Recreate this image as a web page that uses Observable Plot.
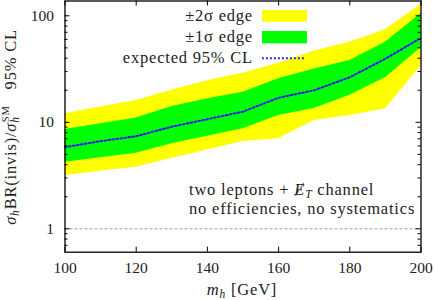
<!DOCTYPE html>
<html><head><meta charset="utf-8">
<script src="https://cdn.jsdelivr.net/npm/d3@7"></script>
<script src="https://cdn.jsdelivr.net/npm/@observablehq/plot@0.6"></script>
<style>body{margin:0;background:#fff;} #chart{width:435px;height:300px;}</style>
</head><body><div id="chart"></div>
<script>
// ---- data ----
const mass      = [100, 110, 120, 130, 140, 150, 160, 170, 180, 190, 200];
const expected  = [5.84, 6.65, 7.4, 9.1, 10.7, 12.6, 17.0, 20.0, 26.5, 39.5, 62];
const sigma1Lo  = [4.22, 4.64, 5.13, 6.3, 7.4, 8.7, 11.6, 13.5, 17.9, 26.2, 50];
const sigma1Hi  = [8.56, 9.68, 11.0, 14.1, 16.6, 19.1, 25.6, 31.6, 38, 56.5, 105];
const sigma2Lo  = [3.17, 3.47, 3.79, 4.6, 5.5, 6.6, 7.0, 10.4, 11.6, 13.4, 34];
const sigma2Hi  = [12.0, 13.9, 16.0, 20, 24.5, 28.8, 35.9, 46.8, 56.5, 74, 128];
const xTicks    = [100, 120, 140, 160, 180, 200];
const yMajor    = [1, 10, 100];
const yMinor    = [0.7, 0.8, 0.9, 2, 3, 4, 5, 6, 7, 8, 9, 20, 30, 40, 50, 60, 70, 80, 90];
const legendLabels = ["\u00b12\u03c3 edge", "\u00b11\u03c3 edge", "expected 95% CL"];
const noteLines = ["two leptons + ", "no efficiencies, no systematics"];

const rows = mass.map((m, i) => ({m, e: expected[i], lo1: sigma1Lo[i], hi1: sigma1Hi[i], lo2: sigma2Lo[i], hi2: sigma2Hi[i]}));

const W = 435, H = 300;
const mL = 64.5, mR = 14.5, mT = 0.5, mB = 48.3;
const iW = W - mL - mR, iH = H - mT - mB;
const FONT = "Liberation Serif";
const BLUE = "#1c1cf0";

const plot = Plot.plot({
  width: W, height: H,
  marginLeft: mL, marginRight: mR, marginTop: mT, marginBottom: mB,
  style: {fontFamily: FONT, fontSize: "15.5px", background: "#fff", color: "#222"},
  x: {domain: [100, 200]},
  y: {type: "log", domain: [0.603, 137.7]},
  marks: [
    Plot.areaY(rows, {x: "m", y1: "lo2", y2: "hi2", fill: "#ffff00"}),
    Plot.areaY(rows, {x: "m", y1: "lo1", y2: "hi1", fill: "#00ff00"}),
    Plot.ruleY([1], {stroke: "#888", strokeWidth: 0.8, strokeDasharray: "3,2"}),
    Plot.line(rows, {x: "m", y: "e", stroke: BLUE, strokeWidth: 2, strokeDasharray: "1.8,2.2"}),
    // inward ticks
    Plot.tickY(yMajor, {y: d => d, insetRight: iW - 5, stroke: "#000"}),
    Plot.tickY(yMajor, {y: d => d, insetLeft: iW - 5, stroke: "#000"}),
    Plot.tickY(yMinor, {y: d => d, insetRight: iW - 3, stroke: "#000"}),
    Plot.tickY(yMinor, {y: d => d, insetLeft: iW - 3, stroke: "#000"}),
    Plot.tickX(xTicks, {x: d => d, insetTop: iH - 5, stroke: "#000"}),
    Plot.tickX(xTicks, {x: d => d, insetBottom: iH - 5, stroke: "#000"}),
    Plot.frame({stroke: "#000", strokeWidth: 1.3}),
    Plot.axisX({ticks: xTicks, tickSize: 0, tickPadding: 10, tickFormat: d => d, label: null}),
    Plot.axisY({ticks: yMajor, tickSize: 0, tickPadding: 11, tickFormat: d => d, label: null})
  ]
});
document.getElementById("chart").appendChild(plot);

const svg = d3.select(plot);
const g = svg.append("g").attr("font-family", FONT).attr("font-size", 16.5)
  .attr("letter-spacing", "0.8px").attr("fill", "#222").attr("text-anchor", "start");

// legend
const legY = [20.5, 41.5, 63];
legendLabels.forEach((t, i) => {
  g.append("text").attr("x", 253).attr("y", legY[i]).attr("text-anchor", "end").text(t);
});
g.append("rect").attr("x", 262).attr("y", 10).attr("width", 45).attr("height", 11.7).attr("fill", "#ffff00");
g.append("rect").attr("x", 262).attr("y", 31).attr("width", 45).attr("height", 12.3).attr("fill", "#00ff00");
g.append("line").attr("x1", 262).attr("x2", 306).attr("y1", 58.3).attr("y2", 58.3)
  .attr("stroke", BLUE).attr("stroke-width", 2).attr("stroke-dasharray", "1.8,2.2");

// annotation
const t1 = g.append("text").attr("x", 189).attr("y", 195);
t1.append("tspan").text(noteLines[0]);
t1.append("tspan").attr("font-style", "italic").text("\u0246");
t1.append("tspan").attr("font-style", "italic").attr("font-size", 11.5).attr("dy", 3).text("T");
t1.append("tspan").attr("dy", -3).text(" channel");
g.append("text").attr("x", 189).attr("y", 214.3).text(noteLines[1]);

// x label
const xl = g.append("text").attr("x", 242).attr("y", 295).attr("text-anchor", "middle");
xl.append("tspan").attr("font-style", "italic").text("m");
xl.append("tspan").attr("font-style", "italic").attr("font-size", 11.5).attr("dy", 3).text("h");
xl.append("tspan").attr("dy", -3).text(" [GeV]");

// y label
const yl = g.append("text").attr("transform", "translate(16,127) rotate(-90)").attr("text-anchor", "middle");
yl.append("tspan").attr("font-style", "italic").text("\u03c3");
yl.append("tspan").attr("font-style", "italic").attr("font-size", 11.5).attr("dy", 3).text("h");
yl.append("tspan").attr("dy", -3).text("BR(invis)/");
yl.append("tspan").attr("font-style", "italic").text("\u03c3");
yl.append("tspan").attr("font-style", "italic").attr("font-size", 11.5).attr("dy", 3).text("h");
yl.append("tspan").attr("font-size", 10.5).attr("dx", -6).attr("dy", -10).text("SM");
yl.append("tspan").attr("dy", 7).attr("dx", 16).text("95% CL");
</script>
</body></html>
